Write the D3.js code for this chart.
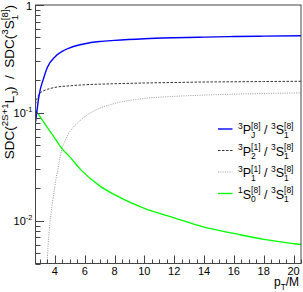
<!DOCTYPE html>
<html><head><meta charset="utf-8">
<script src="https://cdn.jsdelivr.net/npm/d3@7"></script>
<style>body{margin:0;background:#fff}svg{display:block}text{font-family:"Liberation Sans",Arial,sans-serif;fill:#000}</style>
</head><body>
<svg id="c" width="303" height="292"></svg>
<script>
// ---- data ----
const blueX  = [2.7,2.8,2.9,3.0,3.2,3.5,4.0,4.5,5.0,6.0,7.0,8.0,10,12,14,16,18,20.5];
const blueY  = [0.082,0.105,0.133,0.16,0.2,0.265,0.33,0.372,0.4,0.437,0.458,0.47,0.487,0.497,0.504,0.51,0.514,0.518];
const dashX  = [2.7,2.8,2.9,3.0,3.5,4.0,5.0,6.0,8.0,10,12,14,16,18,20.5];
const dashY  = [0.12,0.135,0.145,0.152,0.165,0.172,0.178,0.182,0.186,0.189,0.191,0.193,0.194,0.195,0.196];
const dotX   = [3.45,3.55,3.7,3.85,4.0,4.2,4.45,4.7,5.0,5.5,6.0,7.0,8.0,10,12,14,16,18,20.5];
const dotY   = [0.0035,0.006,0.0105,0.015,0.021,0.03,0.045,0.056,0.067,0.08,0.092,0.11,0.122,0.136,0.142,0.146,0.149,0.151,0.153];
const greenX = [2.7,3.0,3.5,4.0,4.5,5.0,5.7,7.0,8.0,10,12,14,16,18,20.5];
const greenY = [0.107,0.092,0.073,0.058,0.046,0.039,0.030,0.021,0.0174,0.013,0.0106,0.0087,0.0076,0.0067,0.006];
const xMajorTicks = [4,6,8,10,12,14,16,18,20];
const xTickLabels = ["4","6","8","10","12","14","16","18","20"];
const yMajorTicks = [0.01,0.1,1];

const svg = d3.select("#c");
const L=35.5, R=301, T=5, B=263.5;
const x = d3.scaleLinear().domain([2.7,20.5]).range([L,R]);
const y = d3.scaleLog().domain([0.004,1]).range([B,T]);

// rich text helper
function rich(g, parts, fs, anchorX, baseY, align, smr){
  const sm = fs*(smr||0.68);
  const grp = g.append("g");
  let cx = 0;
  parts.forEach(p=>{
    if (p.t !== undefined){
      const t = grp.append("text").attr("x",cx).attr("y",0).attr("font-size",fs).text(p.t);
      t.style("white-space","pre");
      cx += t.node().getComputedTextLength();
    } else {
      let w = 0;
      if (p.sup!==undefined){
        const t = grp.append("text").attr("x",cx).attr("y",-fs*0.42).attr("font-size",sm).text(p.sup);
        w = Math.max(w,t.node().getComputedTextLength());
      }
      if (p.sub!==undefined){
        const t = grp.append("text").attr("x",cx).attr("y",fs*0.3).attr("font-size",sm).text(p.sub);
        w = Math.max(w,t.node().getComputedTextLength());
      }
      cx += w;
    }
  });
  let ox = anchorX;
  if (align==="end") ox = anchorX - cx;
  else if (align==="middle") ox = anchorX - cx/2;
  grp.attr("transform",`translate(${ox},${baseY})`);
  return grp;
}

// clip
svg.append("defs").append("clipPath").attr("id","pc").append("rect")
  .attr("x",L).attr("y",T).attr("width",R-L).attr("height",B-T);

const line = d3.line().x(d=>x(d[0])).y(d=>y(d[1])).curve(d3.curveMonotoneX);
const plot = svg.append("g").attr("clip-path","url(#pc)");
const series = [
  {xs:dotX, ys:dotY, color:"#999", w:1, dash:"1,1.3"},
  {xs:dashX, ys:dashY, color:"#333", w:1, dash:"2.5,1.5"},
  {xs:greenX, ys:greenY, color:"#00ff00", w:1.3, dash:null},
  {xs:blueX, ys:blueY, color:"#0000ff", w:1.4, dash:null}
];
series.forEach(s=>{
  plot.append("path").datum(s.xs.map((v,i)=>[v,s.ys[i]]))
    .attr("d",line).attr("fill","none").attr("stroke",s.color)
    .attr("stroke-width",s.w).attr("stroke-dasharray",s.dash);
});

// frame
svg.append("rect").attr("x",L).attr("y",T).attr("width",R-L).attr("height",B-T)
  .attr("fill","none").attr("stroke","#444").attr("stroke-width",1);

// x ticks
const xMinor = d3.range(3.0,20.51,0.5).filter(v=>!xMajorTicks.some(m=>Math.abs(m-v)<1e-6));
const axG = svg.append("g").attr("stroke","#444").attr("stroke-width",1);
xMinor.forEach(v=>{ const px=Math.round(x(v))+0.5; axG.append("line").attr("x1",px).attr("x2",px).attr("y1",B).attr("y2",B-4);});
xMajorTicks.forEach((v,i)=>{ const px=Math.round(x(v))+0.5; axG.append("line").attr("x1",px).attr("x2",px).attr("y1",B).attr("y2",B-8);
  svg.append("text").attr("x",x(v)).attr("y",274.5).attr("text-anchor","middle").attr("font-size",11).text(xTickLabels[i]);
});

// y ticks
const yMinor = [];
[0.001,0.01,0.1].forEach(d=>{ for(let k=2;k<=9;k++){ const v=k*d; if(v>=0.004-1e-9 && v<1) yMinor.push(v);} });
yMinor.forEach(v=>{ const py=Math.round(y(v))+0.5; axG.append("line").attr("x1",L).attr("x2",L+5).attr("y1",py).attr("y2",py);});
yMajorTicks.forEach(v=>{ const py=Math.round(y(v))+0.5; axG.append("line").attr("x1",L).attr("x2",L+8.5).attr("y1",py).attr("y2",py);});

// y tick labels
rich(svg,[{t:"1"}],11,32,y(1)+4.5,"end");
rich(svg,[{t:"10"},{sup:"-1"}],11,32.5,y(0.1)+4,"end");
rich(svg,[{t:"10"},{sup:"-2"}],11,32.5,y(0.01)+4,"end");

// axis titles
rich(svg,[{t:"p"},{sub:"T"},{t:"/M"}],12,299,286,"end");
const yt = svg.append("g").attr("transform","translate(13.5,5) rotate(-90)");
rich(yt,[{t:"SDC("},{sup:"2S+1"},{t:"L"},{sub:"J"},{t:")  /  SDC("},{sup:"3"},{t:"S"},{sup:"[8]",sub:"1"},{t:")"}],13.5,0,0,"end",0.72);

// legend
const legY = [129,150.5,172,193.5];
const legStyles = [series[3],series[1],series[0],series[2]];
const legLabels = [
  [{sup:"3"},{t:"P"},{sup:"[8]",sub:"J"},{t:" / "},{sup:"3"},{t:"S"},{sup:"[8]",sub:"1"}],
  [{sup:"3"},{t:"P"},{sup:"[1]",sub:"2"},{t:" / "},{sup:"3"},{t:"S"},{sup:"[8]",sub:"1"}],
  [{sup:"3"},{t:"P"},{sup:"[1]",sub:"1"},{t:" / "},{sup:"3"},{t:"S"},{sup:"[8]",sub:"1"}],
  [{sup:"1"},{t:"S"},{sup:"[8]",sub:"0"},{t:" / "},{sup:"3"},{t:"S"},{sup:"[8]",sub:"1"}]
];
legY.forEach((ly,i)=>{
  const s = legStyles[i];
  svg.append("line").attr("x1",218).attr("x2",232.5).attr("y1",ly).attr("y2",ly)
    .attr("stroke",s.color).attr("stroke-width",s.w).attr("stroke-dasharray",s.dash);
  rich(svg,legLabels[i],12.5,238,ly+5,"start");
});
</script>
</body></html>
